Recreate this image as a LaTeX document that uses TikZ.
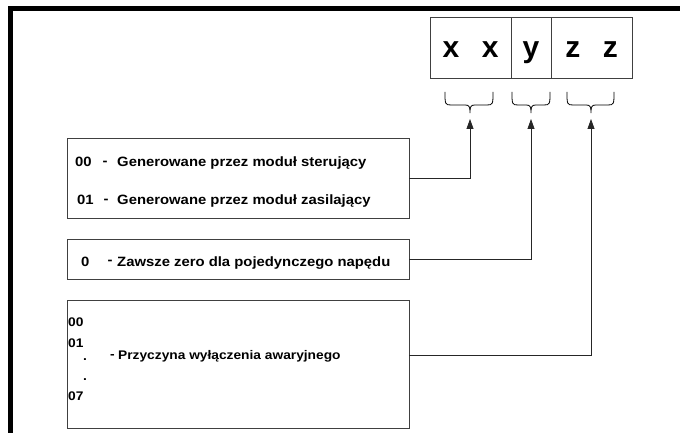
\documentclass[tikz,border=0pt]{standalone}
\usepackage{fontspec}
\setmainfont{Liberation Sans}
\newfontfamily\widefont[FakeStretch=1.1]{Liberation Sans}
\usetikzlibrary{arrows.meta}

\begin{document}
\begin{tikzpicture}[x=1pt, y=-1pt, >={Triangle[length=10pt, width=7pt]},
    box/.style={draw=black!75, line width=0.8pt, inner sep=0pt},
    cell/.style={box, minimum height=61pt, text height=21pt, text depth=0pt,
        font=\fontsize{30}{33}\selectfont\bfseries},
    lbl/.style={inner sep=0pt, anchor=base west, font=\widefont\fontsize{13.5}{15}\selectfont\bfseries},
    small/.style={lbl, font=\widefont\fontsize{12.5}{14}\selectfont\bfseries},
    conn/.style={->, draw=black!85, line width=0.8pt}]

    \useasboundingbox (0,0) rectangle (680,433);

    % Frame
    \draw [line width=5pt] (10,433) -- (10,8.5) -- (680,8.5);

    % Code cells
    \node [cell, minimum width=81pt] (xx) at (470.5,47.5) {x\hspace{0.75em}x};
    \node [cell, minimum width=40pt] (yy) at (531,47.5) {y};
    \node [cell, minimum width=81pt] (zz) at (591.5,47.5) {z\hspace{0.75em}z};

    % Braces
    \foreach \l/\m/\r/\n in {445/470/493/1, 512/531/550/2, 567/591/614/3} {
        \draw [line width=0.8pt] (\l,92) .. controls (\l,104) and (\l,105) .. (\l+6,105)
            -- (\m-5,105) .. controls (\m-1,105) and (\m,106) .. (\m,113)
            .. controls (\m,106) and (\m+1,105) .. (\m+5,105)
            -- (\r-6,105) .. controls (\r,105) and (\r,104) .. (\r,92);
        \coordinate (tip\n) at (\m,119);
    }

    % Box 1
    \node [box, minimum width=342pt, minimum height=80pt] (gen) at (238,178) {};
    \node [lbl] (n00) at (75,166) {00};
    \node [lbl] (d00) at (102.5,165) {-};
    \node [lbl] (t00) at (117,166) {Generowane przez moduł sterujący};
    \node [lbl] (n01) at (77,204) {01};
    \node [lbl] (d01) at (103.5,203) {-};
    \node [lbl] (t01) at (117,204) {Generowane przez moduł zasilający};

    % Box 2
    \node [box, minimum width=342pt, minimum height=40pt] (zero) at (238,259) {};
    \node [lbl] (n0) at (81,266) {0};
    \node [lbl] (d0) at (107.5,264) {-};
    \node [lbl] (t0) at (117,266) {Zawsze zero dla pojedynczego napędu};

    % Box 3
    \node [box, minimum width=342pt, minimum height=128pt] (cause) at (238,364) {};
    \node [small] (c00) at (68,326) {00};
    \node [small] (c01) at (68,347) {01};
    \node [small] (dot1) at (83,360) {.};
    \node [small] (dot2) at (83,380) {.};
    \node [small] (c07) at (68,400) {07};
    \node [small] (dc) at (110,358) {-};
    \node [small] (tc) at (118,359) {Przyczyna wyłączenia awaryjnego};

    % Connectors
    \draw [conn] (gen.east) -| (tip1);
    \draw [conn] (zero.east) -| (tip2);
    \draw [conn] (tc -| cause.east) -| (tip3);
\end{tikzpicture}
\end{document}
